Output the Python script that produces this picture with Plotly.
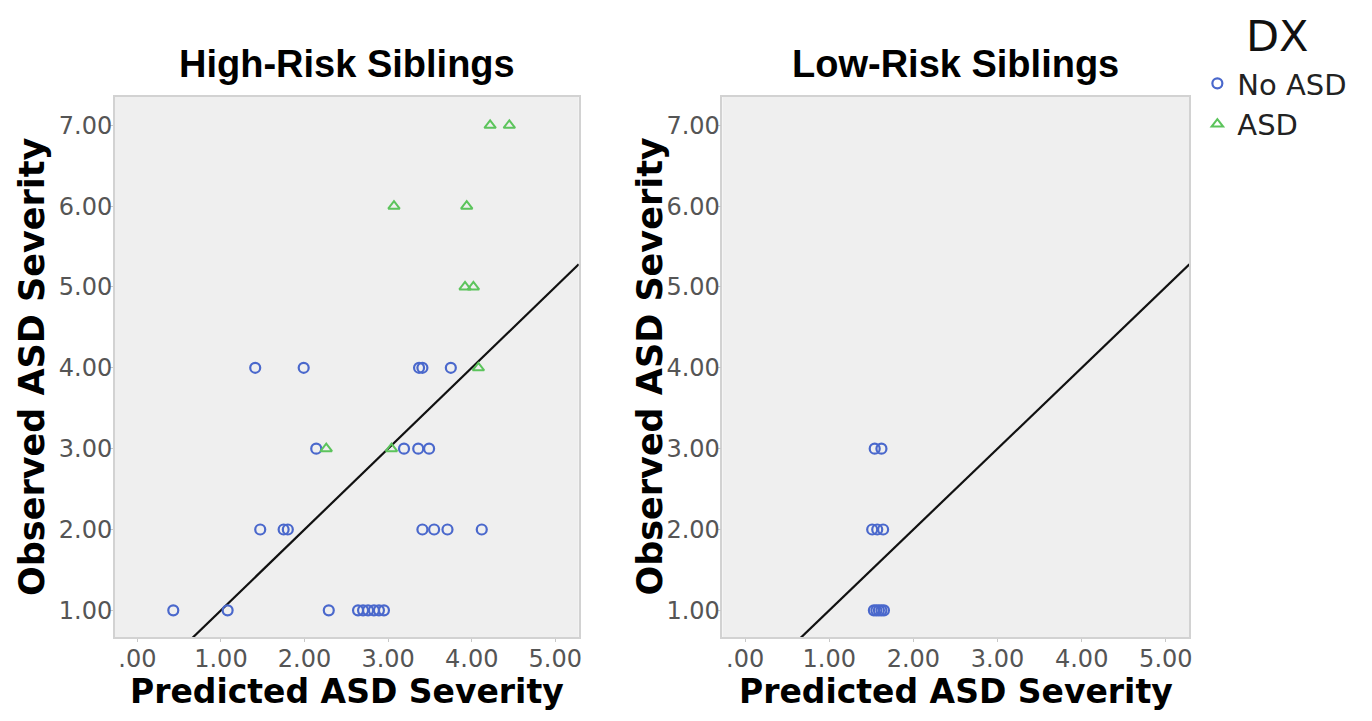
import plotly.graph_objects as go

# ---- data ----
hr_noasd_x = [0.43, 1.08, 2.29, 2.64, 2.70, 2.76, 2.83, 2.89, 2.95,
              1.47, 1.75, 1.80, 3.41, 3.55, 3.71, 4.12,
              2.14, 3.19, 3.36, 3.49,
              1.41, 1.99, 3.37, 3.41, 3.75]
hr_noasd_y = [1, 1, 1, 1, 1, 1, 1, 1, 1,
              2, 2, 2, 2, 2, 2, 2,
              3, 3, 3, 3,
              4, 4, 4, 4, 4]
hr_asd_x = [2.26, 3.04, 4.08, 3.92, 4.02, 3.07, 3.94, 4.22, 4.45]
hr_asd_y = [3, 3, 4, 5, 5, 6, 6, 7, 7]

lr_noasd_x = [1.53, 1.56, 1.59, 1.62, 1.65, 1.51, 1.57, 1.64, 1.54, 1.62]
lr_noasd_y = [1, 1, 1, 1, 1, 2, 2, 2, 3, 3]

panel_titles = ["High-Risk Siblings", "Low-Risk Siblings"]
x_tickvals = [0, 1, 2, 3, 4, 5]
x_ticktext = [".00", "1.00", "2.00", "3.00", "4.00", "5.00"]
y_tickvals = [1, 2, 3, 4, 5, 6, 7]
y_ticktext = ["1.00", "2.00", "3.00", "4.00", "5.00", "6.00", "7.00"]
x_range = [-0.27, 5.28]
y_range = [0.67, 7.35]
ref_slope, ref_intercept = 1.0, 0.0

BLUE = "#4a68cc"
GREEN = "#5cc45c"

# page has an 8px body margin; work in window pixels and convert
OFF = 8
W, H = 1372 - 2 * OFF, 721 - 2 * OFF


def px(x):
    return (x - OFF) / W


def py(y):
    return 1 - (y - OFF) / H


fig = go.Figure()

line_x = x_range
line_y = [ref_intercept + ref_slope * v for v in line_x]

for xa, ya in [("x", "y"), ("x2", "y2")]:
    fig.add_trace(go.Scatter(x=line_x, y=line_y, mode="lines",
                             line=dict(color="#111111", width=2.2),
                             showlegend=False, hoverinfo="skip",
                             xaxis=xa, yaxis=ya))

fig.add_trace(go.Scatter(x=hr_noasd_x, y=hr_noasd_y, mode="markers", name="No ASD",
                         marker=dict(symbol="circle-open", size=10, color=BLUE,
                                     line=dict(width=2.2, color=BLUE)),
                         legendgroup="a", xaxis="x", yaxis="y"))
fig.add_trace(go.Scatter(x=hr_asd_x, y=hr_asd_y, mode="markers", name="ASD",
                         marker=dict(symbol="triangle-up-open", size=10, color=GREEN,
                                     line=dict(width=2, color=GREEN)),
                         legendgroup="b", xaxis="x", yaxis="y"))
fig.add_trace(go.Scatter(x=lr_noasd_x, y=lr_noasd_y, mode="markers", name="No ASD",
                         marker=dict(symbol="circle-open", size=10, color=BLUE,
                                     line=dict(width=2.2, color=BLUE)),
                         showlegend=False, legendgroup="a", xaxis="x2", yaxis="y2"))

axis_common = dict(showgrid=False, zeroline=False, showline=True, mirror=True,
                   linecolor="#d2d2d2", linewidth=1.5,
                   ticks="outside", ticklen=3, tickcolor="#c8c8c8", tickwidth=1,
                   tickfont=dict(family="DejaVu Sans", size=24, color="#555555"))

xd1 = [px(115), px(580)]
xd2 = [px(724), px(1192)]
yd = [py(637), py(97)]

fig.update_layout(
    width=W, height=H,
    margin=dict(l=0, r=0, t=0, b=0),
    paper_bgcolor="white", plot_bgcolor="#efefef",
    xaxis=dict(domain=xd1, range=x_range, tickvals=x_tickvals, ticktext=x_ticktext,
               anchor="y", ticklabelstandoff=-4, **axis_common),
    yaxis=dict(domain=yd, range=y_range, tickvals=y_tickvals, ticktext=y_ticktext,
               anchor="x", ticklabelstandoff=-7, **axis_common),
    xaxis2=dict(domain=xd2, range=x_range, tickvals=x_tickvals, ticktext=x_ticktext,
                anchor="y2", ticklabelstandoff=-4, **axis_common),
    yaxis2=dict(domain=yd, range=y_range, tickvals=y_tickvals, ticktext=y_ticktext,
                anchor="x2", ticklabelstandoff=-7, **axis_common),
    legend=dict(x=px(1200), y=py(58), xanchor="left", yanchor="top",
                bgcolor="rgba(0,0,0,0)",
                font=dict(family="DejaVu Sans", size=29, color="#222222"),
                tracegroupgap=0, itemwidth=30),
    showlegend=True,
)

annots = []
for title, xd in zip(panel_titles, [xd1, xd2]):
    annots.append(dict(text="<b>%s</b>" % title, x=(xd[0] + xd[1]) / 2, y=py(64),
                       xref="paper", yref="paper", showarrow=False,
                       xanchor="center", yanchor="middle",
                       font=dict(family="Liberation Sans", size=38, color="black")))
    annots.append(dict(text="<b>Predicted ASD Severity</b>", x=(xd[0] + xd[1]) / 2,
                       y=py(691), xref="paper", yref="paper", showarrow=False,
                       xanchor="center", yanchor="middle",
                       font=dict(family="DejaVu Sans", size=33, color="black")))
for xpix in [32, 651]:
    annots.append(dict(text="<b>Observed ASD Severity</b>", x=px(xpix),
                       y=(yd[0] + yd[1]) / 2, xref="paper", yref="paper",
                       showarrow=False, textangle=-90,
                       xanchor="center", yanchor="middle",
                       font=dict(family="DejaVu Sans", size=35, color="black")))
annots.append(dict(text="DX", x=px(1280), y=py(36), xref="paper", yref="paper",
                   showarrow=False, xanchor="center", yanchor="middle",
                   font=dict(family="DejaVu Sans", size=43, color="#111111")))
fig.update_layout(annotations=annots)

fig.write_html("out.html")
